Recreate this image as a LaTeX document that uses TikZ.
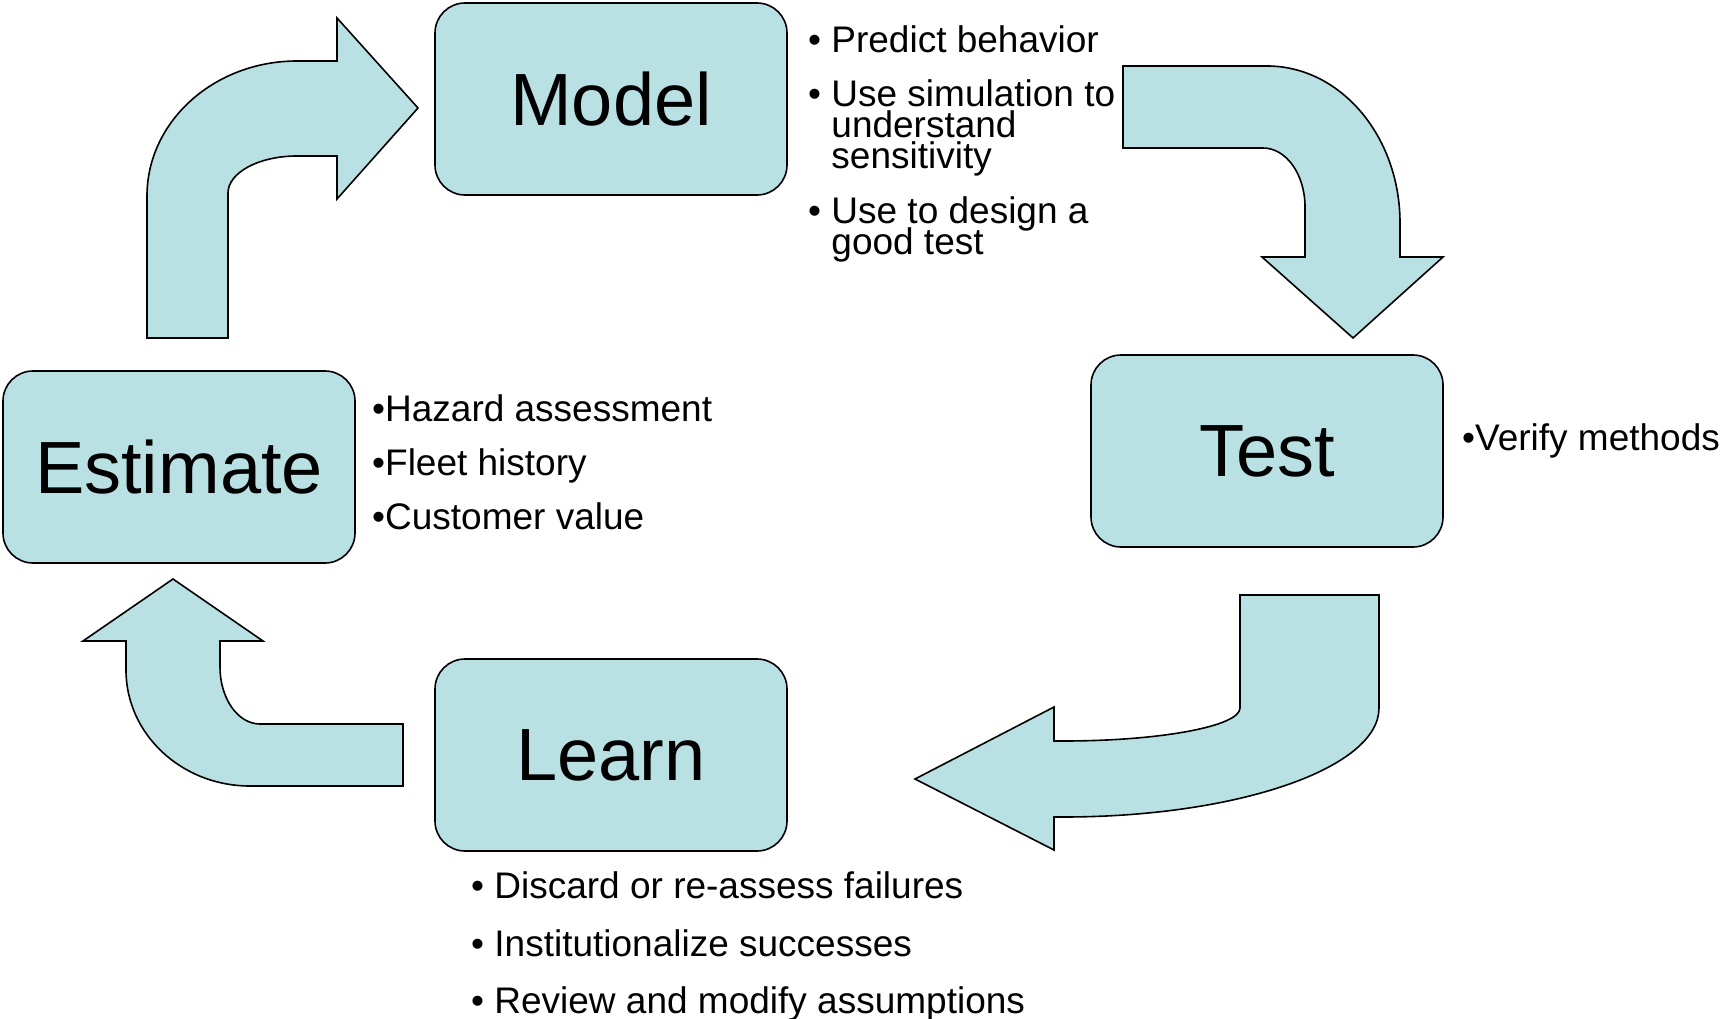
\documentclass[tikz,border=0pt]{standalone}
\usepackage{fontspec}
\setmainfont{Liberation Sans}

\definecolor{cyclefill}{RGB}{185,224,227}
\newcommand{\notefont}{\fontsize{37}{31}\selectfont}
\newcommand{\bspace}{\hphantom{\textbullet\ }}

\tikzset{
  stage/.style={draw=black, line width=1.6pt, fill=cyclefill, rounded corners=30pt,
    minimum width=352pt, minimum height=192pt, inner sep=0pt,
    font=\fontsize{74}{80}\selectfont},
  bigarrow/.style={draw=black, line width=1.6pt, fill=cyclefill},
  note/.style={anchor=base west, inner sep=0pt, font=\notefont},
}

\begin{document}
\begin{tikzpicture}[x=1pt,y=-1pt]
  \useasboundingbox (0,0) rectangle (1723,1019);

  % the four steps of the loop
  \node[stage] (model) at (611,99) {Model};
  \node[stage] (test) at (1267,451) {Test};
  \node[stage] (learn) at (611,755) {Learn};
  \node[stage] (estimate) at (179,467) {Estimate};

  % bent block arrows between the steps
  \draw[bigarrow] (147,338) -- (147,196)
    .. controls (147,121.4) and (214.2,61) .. (297,61)
    -- (337,61) -- (337,18) -- (418,108) -- (337,199) -- (337,156) -- (297,156)
    .. controls (258.9,156) and (228,172.6) .. (228,193)
    -- (228,338) -- cycle;
  \draw[bigarrow] (1123,66) -- (1267,66)
    .. controls (1340.5,66) and (1400,136.3) .. (1400,223)
    -- (1400,257) -- (1443,257) -- (1353,338) -- (1262,257) -- (1305,257) -- (1305,207)
    .. controls (1305,174.4) and (1286.2,148) .. (1263,148)
    -- (1123,148) -- cycle;
  \draw[bigarrow] (1240,595) -- (1379,595) -- (1379,708)
    .. controls (1379,768.2) and (1237.5,817) .. (1063,817)
    -- (1054,817) -- (1054,850) -- (915,779) -- (1054,707) -- (1054,741) -- (1063,741)
    .. controls (1160.8,741) and (1240,726.2) .. (1240,708)
    -- cycle;
  \draw[bigarrow] (403,724) -- (403,786) -- (250,786)
    .. controls (181.5,786) and (126,734.1) .. (126,670)
    -- (126,641) -- (83,641) -- (173,579) -- (263,641) -- (220,641) -- (220,667)
    .. controls (220,698.5) and (237.9,724) .. (260,724)
    -- cycle;

  % notes beside each step
  \node[note] (m1) at (808,53) {\textbullet\ Predict behavior};
  \node[note] (m2) at (808,107) {\textbullet\ Use simulation to};
  \node[note] (m2b) at (808,138) {\bspace understand};
  \node[note] (m2c) at (808,169) {\bspace sensitivity};
  \node[note] (m3) at (808,223) {\textbullet\ Use to design a};
  \node[note] (m3b) at (808,254) {\bspace good test};

  \node[note] (t1) at (1462,450) {\textbullet Verify methods};

  \node[note] (l1) at (471,898) {\textbullet\ Discard or re-assess failures};
  \node[note] (l2) at (471,956) {\textbullet\ Institutionalize successes};
  \node[note] (l3) at (471,1013) {\textbullet\ Review and modify assumptions};

  \node[note] (e1) at (372,421) {\textbullet Hazard assessment};
  \node[note] (e2) at (372,475) {\textbullet Fleet history};
  \node[note] (e3) at (372,529) {\textbullet Customer value};
\end{tikzpicture}
\end{document}
